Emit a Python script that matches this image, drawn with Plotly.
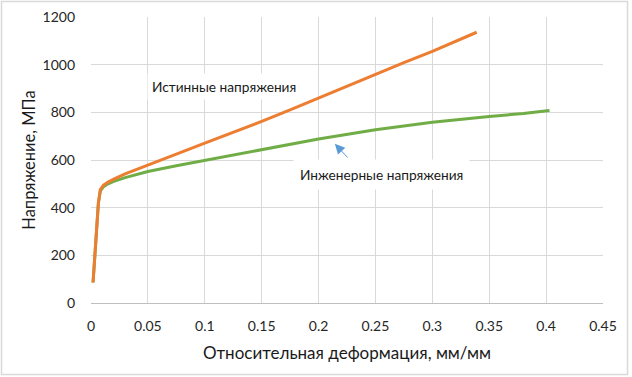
import plotly.graph_objects as go

# Data
strain_true = [0.0018, 0.004, 0.0065, 0.0082, 0.011, 0.015, 0.02, 0.03, 0.05, 0.075,
               0.1, 0.125, 0.15, 0.175, 0.2, 0.225, 0.25, 0.275, 0.3, 0.321, 0.339]
stress_true = [86, 250, 420, 476, 495, 507, 520, 542, 580, 625,
               671, 716, 762, 810, 860, 911, 962, 1009, 1056, 1098, 1136]

strain_eng = [0.0018, 0.004, 0.0065, 0.0082, 0.011, 0.015, 0.02, 0.03, 0.05, 0.075,
              0.1, 0.125, 0.15, 0.175, 0.2, 0.25, 0.3, 0.35, 0.38, 0.403]
stress_eng = [86, 250, 420, 470, 488, 500, 510, 526, 552, 576,
              598, 621, 643, 666, 688, 727, 758, 783, 795, 808]

x_ticks = [0, 0.05, 0.1, 0.15, 0.2, 0.25, 0.3, 0.35, 0.4, 0.45]
x_tick_labels = ["0", "0.05", "0.1", "0.15", "0.2", "0.25", "0.3", "0.35", "0.4", "0.45"]
y_ticks = [0, 200, 400, 600, 800, 1000, 1200]

label_true = "Истинные напряжения"
label_eng = "Инженерные напряжения"
x_title = "Относительная деформация, мм/мм"
y_title = "Напряжение, МПа"

FONT = "Lato"
W, H = 632, 377
ML, MR, MT, MB = 91, 29, 17, 74

fig = go.Figure()
fig.add_trace(go.Scatter(x=strain_eng, y=stress_eng, mode="lines",
                         line=dict(color="#70AD47", width=3), showlegend=False))
fig.add_trace(go.Scatter(x=strain_true, y=stress_true, mode="lines",
                         line=dict(color="#ED7D31", width=3), showlegend=False))

fig.add_annotation(x=0.117, y=908, text=label_true, showarrow=False,
                   font=dict(family=FONT, size=13.7, color="#1a1a1a"),
                   bgcolor="white", borderpad=4)
fig.add_annotation(x=0.2555, y=538, text=label_eng, showarrow=False,
                   font=dict(family=FONT, size=13.7, color="#1a1a1a"),
                   bgcolor="white", borderpad=6)
fig.add_annotation(x=0.2143, y=668, ax=0.2268, ay=604, axref="x", ayref="y",
                   text="", showarrow=True, arrowhead=2, arrowsize=2,
                   arrowwidth=1, arrowcolor="#5B9BD5")

pw = W - ML - MR
ph = H - MT - MB
fig.add_shape(type="rect", xref="paper", yref="paper",
              x0=(-ML + 1.5) / pw, x1=1 + (MR - 4.5) / pw,
              y0=-(MB - 2.5) / ph, y1=1 + (MT - 1.5) / ph,
              line=dict(color="#d9d9d9", width=1.5), layer="below")

fig.update_layout(
    width=W, height=H,
    margin=dict(l=ML, r=MR, t=MT, b=MB, autoexpand=False),
    paper_bgcolor="white", plot_bgcolor="white",
    font=dict(family=FONT, size=14, color="#262626"),
    xaxis=dict(range=[0, 0.45], tickvals=x_ticks, ticktext=x_tick_labels,
               showgrid=True, gridcolor="#d9d9d9", gridwidth=1,
               zeroline=False, showline=True, linecolor="#bfbfbf", linewidth=1,
               ticks="", ticklabelstandoff=10, automargin=False,
               title=dict(text=x_title, font=dict(family=FONT, size=17, color="#1a1a1a"),
                          standoff=14)),
    yaxis=dict(range=[0, 1200], tickvals=y_ticks,
               showgrid=True, gridcolor="#d9d9d9", gridwidth=1,
               zeroline=False, showline=False,
               ticks="", ticklabelstandoff=15, automargin=False,
               title=dict(text=y_title, font=dict(family=FONT, size=16.5, color="#1a1a1a"),
                          standoff=2)),
)

fig.write_html("out.html", config={"displayModeBar": False},
               post_script="document.body.style.margin='0';document.body.style.overflow='hidden';")
